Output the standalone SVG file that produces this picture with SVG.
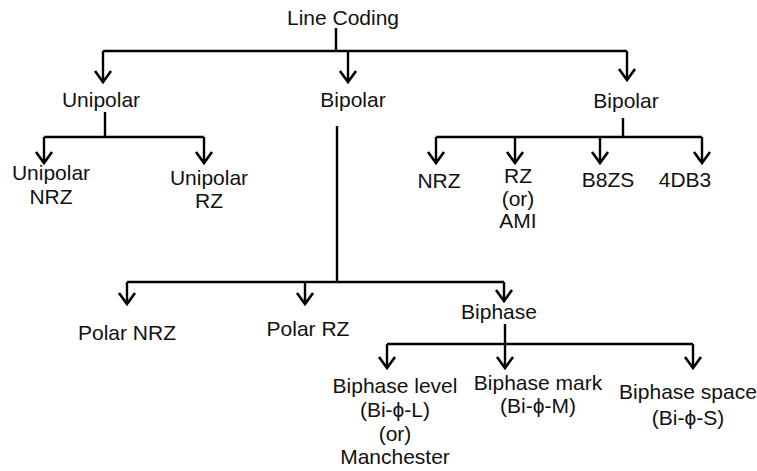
<svg xmlns="http://www.w3.org/2000/svg" width="757" height="471" viewBox="0 0 757 471">
<defs>
<marker id="arr" markerUnits="userSpaceOnUse" markerWidth="30" markerHeight="30" refX="0" refY="0" orient="auto" overflow="visible" viewBox="-15 -15 30 30">
<path d="M-11,-8 L0,0 L-11,8" fill="none" stroke="#000" stroke-width="2.6" stroke-linejoin="miter"/>
</marker>
<style>
.c{fill:none;stroke:#000;stroke-width:2.4}
.a{fill:none;stroke:#000;stroke-width:2.4;marker-end:url(#arr)}
text{font-family:"Liberation Sans",Arial,sans-serif;font-size:21px;fill:#111;text-anchor:middle}
</style>
</defs>
<rect width="757" height="471" fill="#fff"/>
<g id="connectors">
<path class="c" d="M336,28 V51 M103,51 H627"/>
<path class="a" d="M103,51 V82"/>
<path class="a" d="M348,51 V82"/>
<path class="a" d="M627,51 V80"/>
<path class="c" d="M105,112 V137 M44,137 H204"/>
<path class="a" d="M44,137 V163"/>
<path class="a" d="M204,137 V163"/>
<path class="c" d="M337,126 V282 M127,282 H504"/>
<path class="a" d="M127,282 V304"/>
<path class="a" d="M305,282 V304"/>
<path class="a" d="M504,282 V301"/>
<path class="c" d="M623,118 V137 M436,137 H702"/>
<path class="a" d="M436,137 V163"/>
<path class="a" d="M515,137 V163"/>
<path class="a" d="M600,137 V163"/>
<path class="a" d="M702,137 V163"/>
<path class="c" d="M505,324 V344 M387,344 H693"/>
<path class="a" d="M387,344 V368"/>
<path class="a" d="M505,344 V368"/>
<path class="a" d="M693,344 V368"/>
</g>
<g id="line-coding"><text x="343" y="25">Line Coding</text></g>
<g id="unipolar"><text x="101" y="107">Unipolar</text></g>
<g id="bipolar-mid"><text x="353" y="107">Bipolar</text></g>
<g id="bipolar-right"><text x="626" y="108">Bipolar</text></g>
<g id="unipolar-nrz"><text><tspan x="51" y="180">Unipolar</tspan><tspan x="51" y="204">NRZ</tspan></text></g>
<g id="unipolar-rz"><text><tspan x="209" y="185">Unipolar</tspan><tspan x="209" y="208">RZ</tspan></text></g>
<g id="nrz"><text x="439" y="188">NRZ</text></g>
<g id="rz-ami"><text><tspan x="518" y="183">RZ</tspan><tspan x="518" y="206">(or)</tspan><tspan x="518" y="228">AMI</tspan></text></g>
<g id="b8zs"><text x="608" y="187">B8ZS</text></g>
<g id="4db3"><text x="685" y="187">4DB3</text></g>
<g id="polar-nrz"><text x="127" y="340">Polar NRZ</text></g>
<g id="polar-rz"><text x="308" y="336">Polar RZ</text></g>
<g id="biphase"><text x="499" y="319">Biphase</text></g>
<g id="biphase-level"><text><tspan x="395" y="393">Biphase level</tspan><tspan x="395" y="417">(Bi-ϕ-L)</tspan><tspan x="395" y="441">(or)</tspan><tspan x="395" y="464">Manchester</tspan></text></g>
<g id="biphase-mark"><text><tspan x="538" y="390">Biphase mark</tspan><tspan x="538" y="413">(Bi-ϕ-M)</tspan></text></g>
<g id="biphase-space"><text><tspan x="688" y="399">Biphase space</tspan><tspan x="688" y="425">(Bi-ϕ-S)</tspan></text></g>
</svg>
